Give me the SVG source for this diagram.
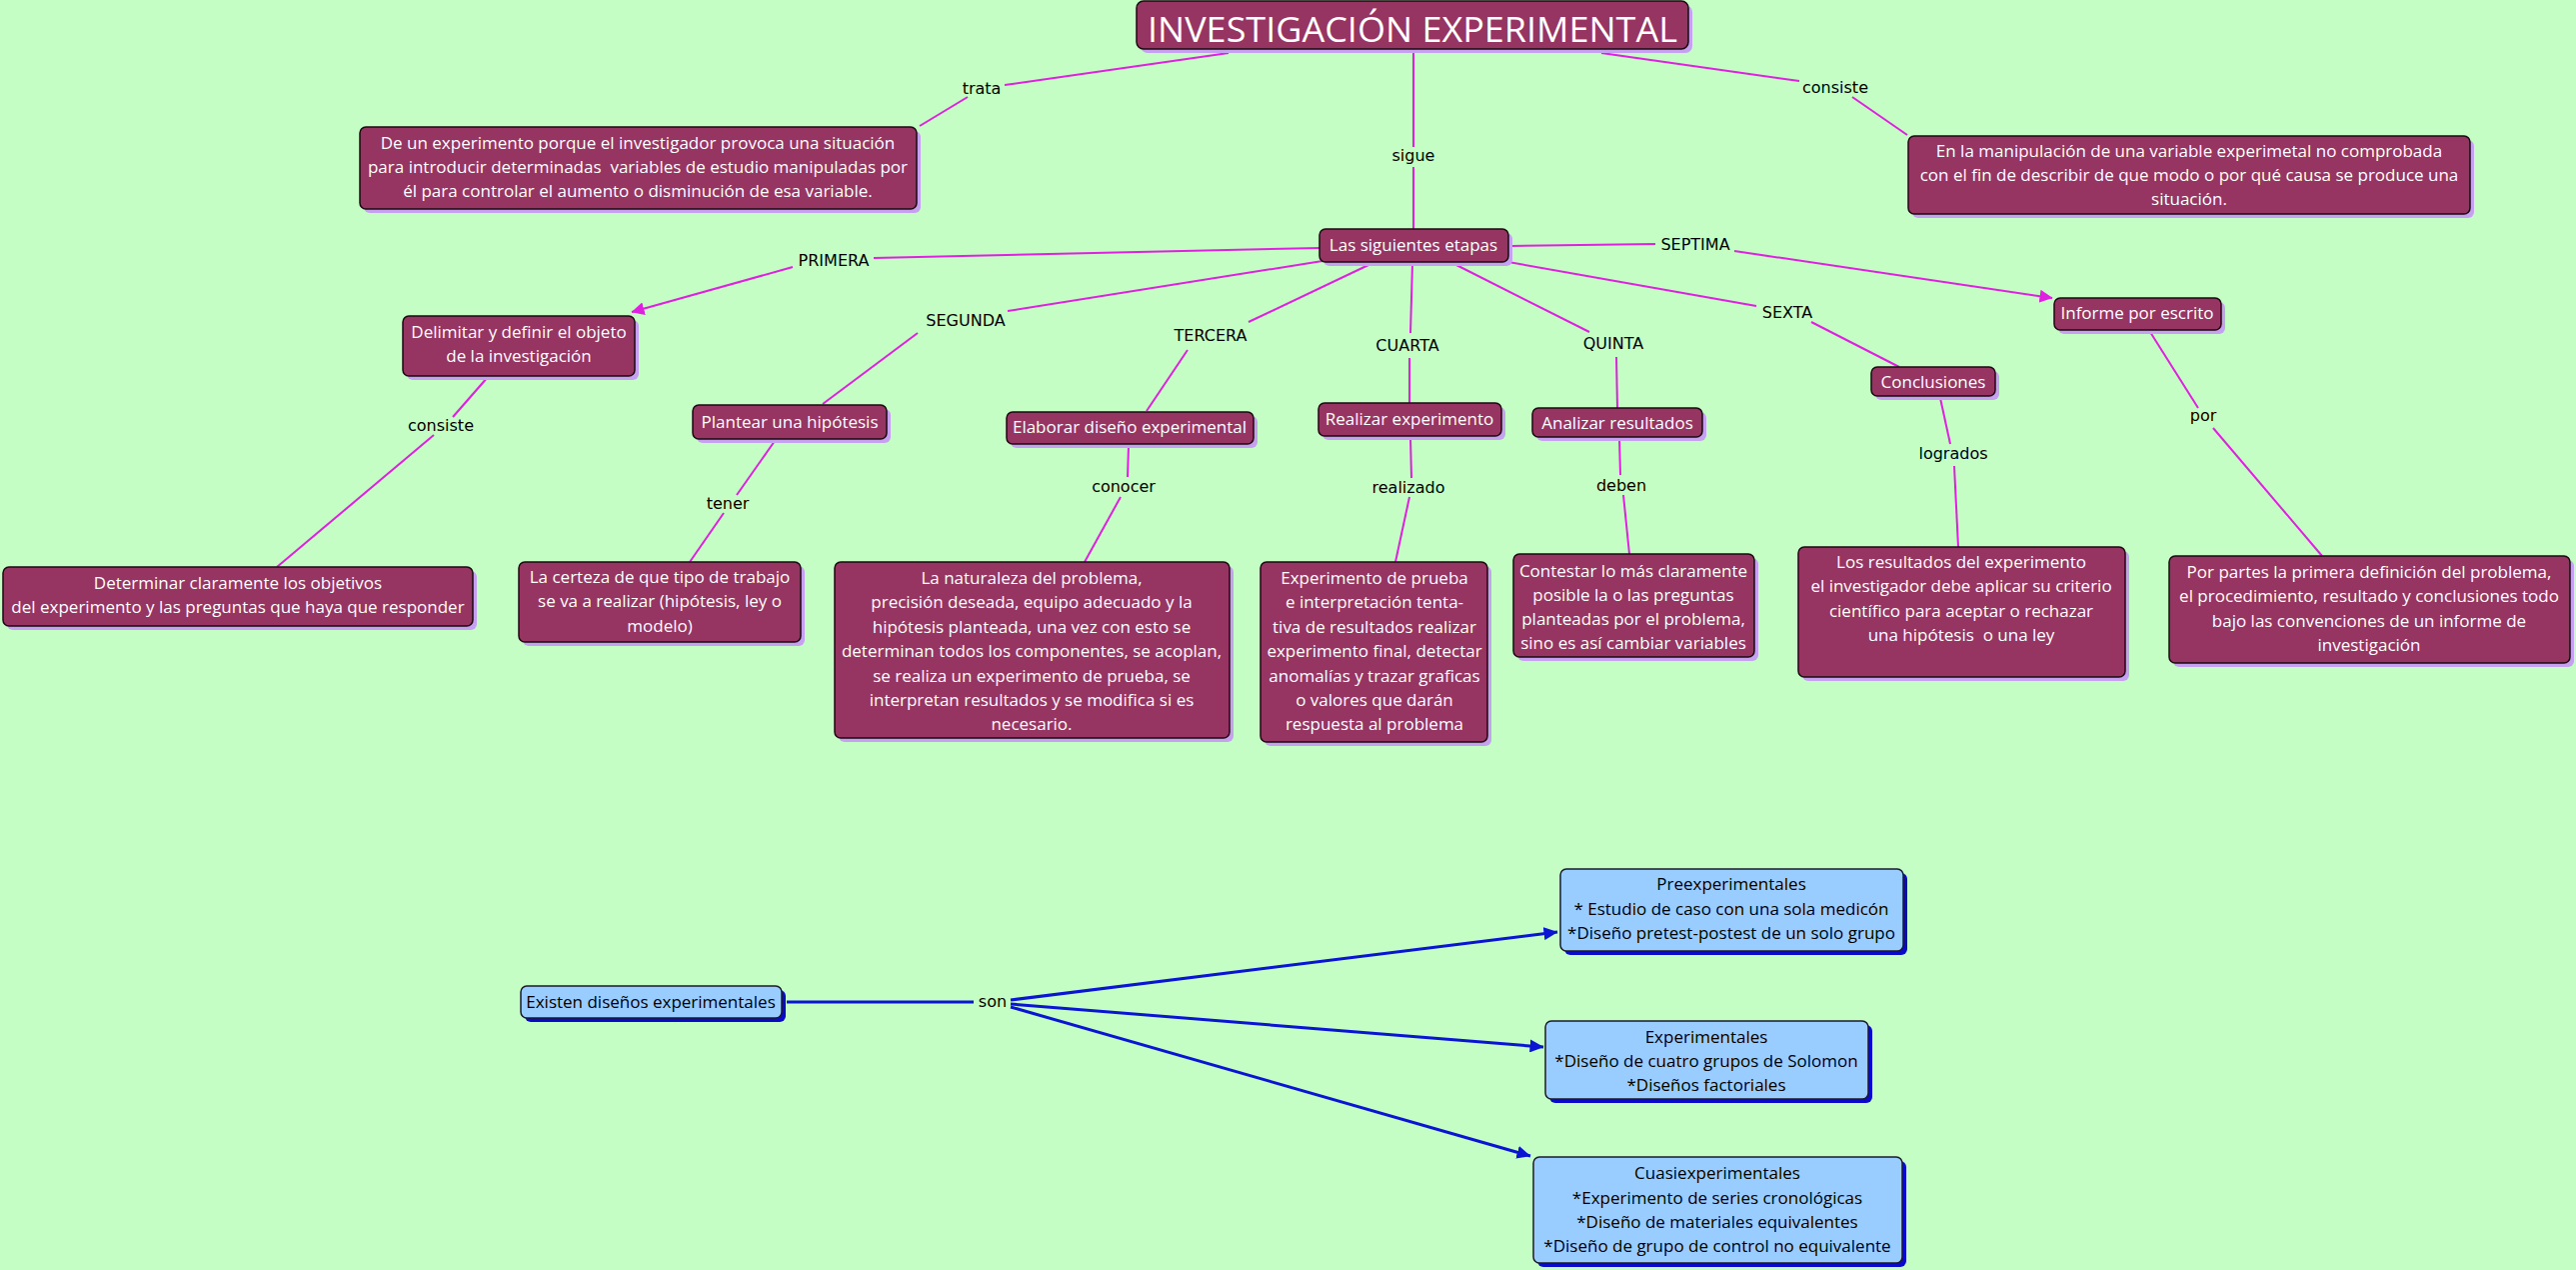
<svg xmlns="http://www.w3.org/2000/svg" width="2577" height="1270" viewBox="0 0 2577 1270">
<defs>
<style>
.bg{fill:#C5FEC5}
.sh{fill:#C6A1F1}
.nd{fill:#963462;stroke:#1A0A12;stroke-width:1.5}
.shb{fill:#0A0ACC}
.ndb{fill:#99CCFF;stroke:#1A1A2A;stroke-width:1.5}
.t{font-family:'Open Sans','Noto Sans',sans-serif;font-size:17px;fill:#FFFFFF;text-anchor:middle}
.tb{font-family:'Open Sans','Noto Sans',sans-serif;font-size:17px;fill:#000000;text-anchor:middle}
.lb{font-family:'DejaVu Sans','Verdana',sans-serif;font-size:16px;fill:#000000;text-anchor:middle}
.c{stroke:#E020E0;stroke-width:2;fill:none}
.cb{stroke:#0A14D2;stroke-width:3;fill:none}
</style>
<marker id="ah" viewBox="0 0 13 13" refX="12.5" refY="6.5" markerWidth="13" markerHeight="13" markerUnits="userSpaceOnUse" orient="auto"><path d="M0,0 L13,6.5 L0,13 z" fill="#E020E0"/></marker>
<marker id="ahb" viewBox="0 0 14 13" refX="13.5" refY="6.5" markerWidth="14" markerHeight="13" markerUnits="userSpaceOnUse" orient="auto"><path d="M0,0 L14,6.5 L0,13 z" fill="#0A14D2"/></marker>
</defs>
<rect class="bg" x="0" y="0" width="2577" height="1270"/>

<g id="connectors">
<path class="c" d="M1229,53 L1005,85"/>
<path class="c" d="M968,97 L920,126"/>
<path class="c" d="M1414,50 L1414,147"/>
<path class="c" d="M1414,167 L1414,229"/>
<path class="c" d="M1602,53 L1800,81"/>
<path class="c" d="M1853,97 L1908,135"/>
<path class="c" d="M1320,248 L874,258"/>
<path class="c" d="M793,267 L632,312" marker-end="url(#ah)"/>
<path class="c" d="M1323,261 L1008,311"/>
<path class="c" d="M918,333 L823,404"/>
<path class="c" d="M1369,265 L1249,322"/>
<path class="c" d="M1188,350 L1147,411"/>
<path class="c" d="M1413,263 L1411,333"/>
<path class="c" d="M1410,358 L1410,403"/>
<path class="c" d="M1455,264 L1590,332"/>
<path class="c" d="M1617,357 L1618,408"/>
<path class="c" d="M1509,262 L1757,306"/>
<path class="c" d="M1812,322 L1900,367"/>
<path class="c" d="M1511,246 L1656,244"/>
<path class="c" d="M1735,251 L2053,298" marker-end="url(#ah)"/>
<path class="c" d="M488,377 L453,417"/>
<path class="c" d="M434,435 L277,567"/>
<path class="c" d="M775,441 L737,495"/>
<path class="c" d="M724,513 L690,562"/>
<path class="c" d="M1129,446 L1128,477"/>
<path class="c" d="M1121,497 L1085,562"/>
<path class="c" d="M1411,438 L1412,478"/>
<path class="c" d="M1410,497 L1396,562"/>
<path class="c" d="M1620,439 L1621,475"/>
<path class="c" d="M1624,495 L1630,554"/>
<path class="c" d="M1941,398 L1951,444"/>
<path class="c" d="M1955,466 L1959,547"/>
<path class="c" d="M2151,332 L2199,408"/>
<path class="c" d="M2214,428 L2323,556"/>
<path class="cb" d="M787,1002 L974,1002"/>
<path class="cb" d="M1011,1000 L1558,932" marker-end="url(#ahb)"/>
<path class="cb" d="M1011,1004 L1544,1047" marker-end="url(#ahb)"/>
<path class="cb" d="M1011,1007 L1531,1156" marker-end="url(#ahb)"/>
</g>

<g id="labels">
<text class="lb" x="982" y="94">trata</text>
<text class="lb" x="1414" y="161">sigue</text>
<text class="lb" x="1836" y="93">consiste</text>
<text class="lb" x="834" y="266">PRIMERA</text>
<text class="lb" x="966" y="326">SEGUNDA</text>
<text class="lb" x="1211" y="341">TERCERA</text>
<text class="lb" x="1408" y="351">CUARTA</text>
<text class="lb" x="1614" y="349">QUINTA</text>
<text class="lb" x="1788" y="318">SEXTA</text>
<text class="lb" x="1696" y="250">SEPTIMA</text>
<text class="lb" x="441" y="431">consiste</text>
<text class="lb" x="728" y="509">tener</text>
<text class="lb" x="1124" y="492">conocer</text>
<text class="lb" x="1409" y="493">realizado</text>
<text class="lb" x="1622" y="491">deben</text>
<text class="lb" x="1954" y="459">logrados</text>
<text class="lb" x="2204" y="421">por</text>
<text class="lb" x="993" y="1007">son</text>
</g>

<g id="n-title">
<rect class="sh" x="1141" y="5" width="552" height="48" rx="7"/>
<rect class="nd" x="1137" y="1" width="552" height="48" rx="7"/>
<text class="t" x="1413" y="42" style="font-size:34px" textLength="530" lengthAdjust="spacingAndGlyphs">INVESTIGACIÓN EXPERIMENTAL</text>
</g>

<g id="n-trata">
<rect class="sh" x="364" y="131" width="557" height="82" rx="6"/>
<rect class="nd" x="360" y="127" width="557" height="82" rx="6"/>
<text class="t"><tspan x="638" y="149">De un experimento porque el investigador provoca una situación</tspan><tspan x="638" y="173" xml:space="preserve">para introducir determinadas  variables de estudio manipuladas por</tspan><tspan x="638" y="197">él para controlar el aumento o disminución de esa variable.</tspan></text>
</g>

<g id="n-consiste">
<rect class="sh" x="1913" y="140" width="562" height="78" rx="6"/>
<rect class="nd" x="1909" y="136" width="562" height="78" rx="6"/>
<text class="t"><tspan x="2190" y="157">En la manipulación de una variable experimetal no comprobada</tspan><tspan x="2190" y="181">con el fin de describir de que modo o por qué causa se produce una</tspan><tspan x="2190" y="205">situación.</tspan></text>
</g>

<g id="n-etapas">
<rect class="sh" x="1324" y="233" width="189" height="33" rx="6"/>
<rect class="nd" x="1320" y="229" width="189" height="33" rx="6"/>
<text class="t" x="1414" y="251">Las siguientes etapas</text>
</g>

<g id="n-delimitar">
<rect class="sh" x="407" y="320" width="232" height="60" rx="6"/>
<rect class="nd" x="403" y="316" width="232" height="60" rx="6"/>
<text class="t"><tspan x="519" y="338">Delimitar y definir el objeto</tspan><tspan x="519" y="362">de la investigación</tspan></text>
</g>

<g id="n-determinar">
<rect class="sh" x="7" y="571" width="470" height="59" rx="6"/>
<rect class="nd" x="3" y="567" width="470" height="59" rx="6"/>
<text class="t"><tspan x="238" y="589">Determinar claramente los objetivos</tspan><tspan x="238" y="613">del experimento y las preguntas que haya que responder</tspan></text>
</g>

<g id="n-plantear">
<rect class="sh" x="697" y="409" width="194" height="34" rx="6"/>
<rect class="nd" x="693" y="405" width="194" height="34" rx="6"/>
<text class="t" x="790" y="428">Plantear una hipótesis</text>
</g>

<g id="n-certeza">
<rect class="sh" x="523" y="566" width="282" height="80" rx="6"/>
<rect class="nd" x="519" y="562" width="282" height="80" rx="6"/>
<text class="t"><tspan x="660" y="583">La certeza de que tipo de trabajo</tspan><tspan x="660" y="607">se va a realizar (hipótesis, ley o</tspan><tspan x="660" y="632">modelo)</tspan></text>
</g>

<g id="n-elaborar">
<rect class="sh" x="1011" y="416" width="247" height="32" rx="6"/>
<rect class="nd" x="1007" y="412" width="247" height="32" rx="6"/>
<text class="t" x="1130" y="433">Elaborar diseño experimental</text>
</g>

<g id="n-naturaleza">
<rect class="sh" x="839" y="566" width="395" height="176" rx="6"/>
<rect class="nd" x="835" y="562" width="395" height="176" rx="6"/>
<text class="t"><tspan x="1032" y="584">La naturaleza del problema,</tspan><tspan x="1032" y="608">precisión deseada, equipo adecuado y la</tspan><tspan x="1032" y="633">hipótesis planteada, una vez con esto se</tspan><tspan x="1032" y="657">determinan todos los componentes, se acoplan,</tspan><tspan x="1032" y="682">se realiza un experimento de prueba, se</tspan><tspan x="1032" y="706">interpretan resultados y se modifica si es</tspan><tspan x="1032" y="730">necesario.</tspan></text>
</g>

<g id="n-realizar">
<rect class="sh" x="1323" y="407" width="183" height="33" rx="6"/>
<rect class="nd" x="1319" y="403" width="183" height="33" rx="6"/>
<text class="t" x="1410" y="425">Realizar experimento</text>
</g>

<g id="n-prueba">
<rect class="sh" x="1265" y="566" width="227" height="180" rx="6"/>
<rect class="nd" x="1261" y="562" width="227" height="180" rx="6"/>
<text class="t"><tspan x="1375" y="584">Experimento de prueba</tspan><tspan x="1375" y="608">e interpretación tenta-</tspan><tspan x="1375" y="633">tiva de resultados realizar</tspan><tspan x="1375" y="657">experimento final, detectar</tspan><tspan x="1375" y="682">anomalías y trazar graficas</tspan><tspan x="1375" y="706">o valores que darán</tspan><tspan x="1375" y="730">respuesta al problema</tspan></text>
</g>

<g id="n-analizar">
<rect class="sh" x="1537" y="412" width="170" height="29" rx="6"/>
<rect class="nd" x="1533" y="408" width="170" height="29" rx="6"/>
<text class="t" x="1618" y="429">Analizar resultados</text>
</g>

<g id="n-contestar">
<rect class="sh" x="1518" y="558" width="241" height="103" rx="6"/>
<rect class="nd" x="1514" y="554" width="241" height="103" rx="6"/>
<text class="t"><tspan x="1634" y="577">Contestar lo más claramente</tspan><tspan x="1634" y="601">posible la o las preguntas</tspan><tspan x="1634" y="625">planteadas por el problema,</tspan><tspan x="1634" y="649">sino es así cambiar variables</tspan></text>
</g>

<g id="n-conclusiones">
<rect class="sh" x="1876" y="371" width="124" height="29" rx="6"/>
<rect class="nd" x="1872" y="367" width="124" height="29" rx="6"/>
<text class="t" x="1934" y="388">Conclusiones</text>
</g>

<g id="n-resultados">
<rect class="sh" x="1803" y="551" width="327" height="130" rx="6"/>
<rect class="nd" x="1799" y="547" width="327" height="130" rx="6"/>
<text class="t"><tspan x="1962" y="568">Los resultados del experimento</tspan><tspan x="1962" y="592">el investigador debe aplicar su criterio</tspan><tspan x="1962" y="617">científico para aceptar o rechazar</tspan><tspan x="1962" y="641" xml:space="preserve">una hipótesis  o una ley</tspan></text>
</g>

<g id="n-informe">
<rect class="sh" x="2059" y="302" width="167" height="32" rx="6"/>
<rect class="nd" x="2055" y="298" width="167" height="32" rx="6"/>
<text class="t" x="2138" y="319">Informe por escrito</text>
</g>

<g id="n-porpartes">
<rect class="sh" x="2174" y="560" width="401" height="107" rx="6"/>
<rect class="nd" x="2170" y="556" width="401" height="107" rx="6"/>
<text class="t"><tspan x="2370" y="578">Por partes la primera definición del problema,</tspan><tspan x="2370" y="602">el procedimiento, resultado y conclusiones todo</tspan><tspan x="2370" y="627">bajo las convenciones de un informe de</tspan><tspan x="2370" y="651">investigación</tspan></text>
</g>

<g id="n-existen">
<rect class="shb" x="525" y="990" width="261" height="32" rx="6"/>
<rect class="ndb" x="521" y="986" width="261" height="32" rx="6"/>
<text class="tb" x="651" y="1008">Existen diseños experimentales</text>
</g>

<g id="n-pre">
<rect class="shb" x="1565" y="873" width="343" height="82" rx="6"/>
<rect class="ndb" x="1561" y="869" width="343" height="82" rx="6"/>
<text class="tb"><tspan x="1732" y="890">Preexperimentales</tspan><tspan x="1732" y="915">* Estudio de caso con una sola medicón</tspan><tspan x="1732" y="939">*Diseño pretest-postest de un solo grupo</tspan></text>
</g>

<g id="n-exp">
<rect class="shb" x="1550" y="1025" width="323" height="78" rx="6"/>
<rect class="ndb" x="1546" y="1021" width="323" height="78" rx="6"/>
<text class="tb"><tspan x="1707" y="1043">Experimentales</tspan><tspan x="1707" y="1067">*Diseño de cuatro grupos de Solomon</tspan><tspan x="1707" y="1091">*Diseños factoriales</tspan></text>
</g>

<g id="n-cuasi">
<rect class="shb" x="1538" y="1161" width="369" height="106" rx="6"/>
<rect class="ndb" x="1534" y="1157" width="369" height="106" rx="6"/>
<text class="tb"><tspan x="1718" y="1179">Cuasiexperimentales</tspan><tspan x="1718" y="1204">*Experimento de series cronológicas</tspan><tspan x="1718" y="1228">*Diseño de materiales equivalentes</tspan><tspan x="1718" y="1252">*Diseño de grupo de control no equivalente</tspan></text>
</g>
</svg>
